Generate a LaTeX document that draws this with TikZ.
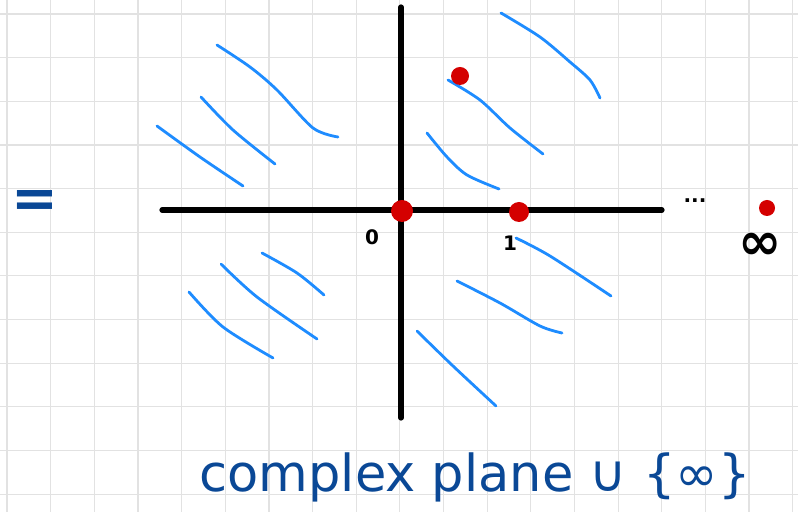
\documentclass[tikz,border=0pt]{standalone}
\usepackage{fontspec}
\newfontfamily\handfont{DejaVu Sans}
\usetikzlibrary{positioning}
\definecolor{planegrid}{HTML}{E2E2E2}
\definecolor{planeblue}{HTML}{1E8CFF}
\definecolor{planeink}{HTML}{0A4896}
\definecolor{planered}{HTML}{D40000}

\begin{document}
\begin{tikzpicture}[x=0.5pt,y=-0.5pt,
  gridline/.style={draw=planegrid,line width=0.6pt},
  axis/.style={draw=black,line width=2.6pt,line cap=round},
  hatch/.style={draw=planeblue,line width=1.4pt,line cap=round},
  pole/.style={circle,fill=planered,inner sep=0pt},
  tick/.style={font=\handfont\bfseries\fontsize{10}{10}\selectfont,text=black,inner sep=0pt},
  ink/.style={font=\handfont\fontsize{25.5}{27}\selectfont,text=planeink,inner sep=0pt}
]
\useasboundingbox (0,0) rectangle (798,512);
\fill[white] (0,0) rectangle (798,512);
\foreach \i in {0,...,18}
  \draw[gridline] ({7+43.65*\i},0) -- ({7+43.65*\i},512);
\foreach \j in {0,...,11}
  \draw[gridline] (0,{14+43.65*\j}) -- (798,{14+43.65*\j});

\coordinate (west) at (162,210);
\coordinate (east) at (662,210);
\coordinate (north) at (401,7);
\coordinate (south) at (401,418);
\draw[axis] (west) -- (east);
\draw[axis] (north) -- (south);

\draw[hatch] plot[smooth] coordinates {(217,45) (250,67) (277,90) (313,128) (338,137)};
\draw[hatch] plot[smooth] coordinates {(201,97) (233,130) (275,164)};
\draw[hatch] plot[smooth] coordinates {(157,126) (200,157) (243,186)};
\draw[hatch] plot[smooth] coordinates {(501,13) (540,37) (570,62) (590,80) (600,98)};
\draw[hatch] plot[smooth] coordinates {(448,80) (480,100) (510,128) (543,154)};
\draw[hatch] plot[smooth] coordinates {(427,133) (447,157) (467,175) (499,189)};
\draw[hatch] plot[smooth] coordinates {(262,253) (297,273) (324,295)};
\draw[hatch] plot[smooth] coordinates {(221,264) (257,297) (317,339)};
\draw[hatch] plot[smooth] coordinates {(189,292) (223,327) (273,358)};
\draw[hatch] plot[smooth] coordinates {(516,238) (550,256) (611,296)};
\draw[hatch] plot[smooth] coordinates {(457,281) (500,303) (540,326) (562,333)};
\draw[hatch] plot[smooth] coordinates {(417,331) (453,366) (496,406)};

\node[pole,minimum size=11pt] (origin) at (402,211) {};
\node[pole,minimum size=10pt] (one) at (519,212) {};
\node[pole,minimum size=9pt] (upper) at (460,76) {};
\node[pole,minimum size=8pt] (infty) at (767,208) {};

\node[tick] (zero) at (372,237) {0};
\node[tick] (unit) at (510,243) {1};
\node[tick] (dots) at (695,201) {...};
\node[tick,font=\handfont\bfseries\fontsize{26}{26}\selectfont] (inflabel) at (760,246) {∞};

\node[ink,font=\handfont\bfseries\fontsize{28}{30}\selectfont] (equals) at (35,204) {=};
\node[ink] (caption) at (475,477) {complex plane ∪ \{∞\}};
\end{tikzpicture}
\end{document}
